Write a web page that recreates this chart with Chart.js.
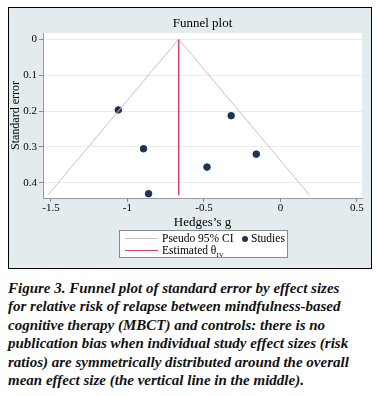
<!DOCTYPE html>
<html>
<head>
<meta charset="utf-8">
<script src="https://cdn.jsdelivr.net/npm/chart.js@4"></script>
<style>
  body { margin: 0; background: #fff; width: 377px; height: 396px; position: relative; overflow: hidden; }
  #frame { position: absolute; left: 8px; top: 7px; width: 362px; height: 260px; border: 1.5px solid #000; background: #e3ebef; }
  #chart { position: absolute; left: 0; top: 0; }
  #legend { position: absolute; left: 110px; top: 222px; width: 167px; height: 26px; background: #fff; border: 1px solid #8a8a8a;
            font-family: "Liberation Serif", serif; font-size: 11.5px; color: #000; }
  .sw { position: absolute; left: 5px; width: 33px; height: 0; }
  .lt { position: absolute; white-space: nowrap; line-height: 12px; }
  #caption { position: absolute; left: 8px; top: 279px; width: 365px; font-family: "Liberation Serif", serif; font-weight: bold;
             font-style: italic; font-size: 15px; line-height: 18.4px; color: #111; white-space: nowrap; }
</style>
</head>
<body>
<div id="frame">
  <canvas id="chart" width="362" height="260"></canvas>
  <div id="legend">
    <div class="sw" style="top:7px;border-top:1px solid #c4c4c4"></div>
    <div class="lt" style="left:42px;top:1px">Pseudo 95% CI</div>
    <div style="position:absolute;left:122px;top:5px;width:6px;height:6px;border-radius:50%;background:#1c3550"></div>
    <div class="lt" style="left:131px;top:1px">Studies</div>
    <div class="sw" style="top:19px;border-top:1.5px solid #d0406a"></div>
    <div class="lt" style="left:42px;top:13px">Estimated &theta;<sub style="font-size:7px">IV</sub></div>
  </div>
</div>
<div id="caption">Figure 3. Funnel plot of standard error by effect sizes<br>for relative risk of relapse between mindfulness-based<br>cognitive therapy (MBCT) and controls: there is no<br>publication bias when individual study effect sizes (risk<br>ratios) are symmetrically distributed around the overall<br>mean effect size (the vertical line in the middle).</div>
<script>
// Study effect sizes (Hedges's g) and standard errors
const studyG = [-1.06, -0.895, -0.862, -0.48, -0.322, -0.158];
const studySE = [0.197, 0.305, 0.43, 0.356, 0.213, 0.32];

// Pseudo 95% CI funnel (bottom-left, apex, bottom-right)
const funnelG = [-1.52, -0.665, 0.19];
const funnelSE = [0.434, 0, 0.434];

// Estimated overall effect (vertical line)
const thetaG = [-0.665, -0.665];
const thetaSE = [0, 0.434];

// Axis ticks
const xTicks = [-1.5, -1, -0.5, 0, 0.5];
const xTickLabels = ['-1.5', '-1', '-0.5', '0', '0.5'];
const yTicks = [0, 0.1, 0.2, 0.3, 0.4];
const yTickLabels = ['0', '0.1', '0.2', '0.3', '0.4'];

const toPoints = (xs, ys) => xs.map((x, i) => ({ x: x, y: ys[i] }));
const serif = '"Liberation Serif", "Times New Roman", serif';

// white plot area
const plotBg = {
    id: 'plotBg',
    beforeDraw(chart) {
        const a = chart.chartArea;
        chart.ctx.save();
        chart.ctx.fillStyle = '#fff';
        chart.ctx.fillRect(a.left, a.top, a.right - a.left, a.bottom - a.top);
        chart.ctx.restore();
    }
};

new Chart(document.getElementById('chart'), {
    type: 'scatter',
    data: {
        datasets: [{
            label: 'Pseudo 95% CI',
            data: toPoints(funnelG, funnelSE),
            showLine: true,
            borderColor: '#c4c4c4',
            borderWidth: 1,
            pointRadius: 0
        }, {
            label: 'Estimated',
            data: toPoints(thetaG, thetaSE),
            showLine: true,
            borderColor: '#d0406a',
            borderWidth: 1.5,
            pointRadius: 0
        }, {
            label: 'Studies',
            data: toPoints(studyG, studySE),
            backgroundColor: '#1c3550',
            borderColor: '#1c3550',
            pointRadius: 3.3
        }]
    },
    options: {
        responsive: false,
        animation: false,
        layout: { padding: { left: 0, right: 9, top: 0, bottom: 38 } },
        plugins: {
            legend: { display: false },
            tooltip: { enabled: false },
            title: {
                display: true,
                text: 'Funnel plot',
                fullSize: false,
                color: '#000',
                font: { family: serif, size: 13, weight: 'normal' },
                padding: { top: 8, bottom: 1.4 }
            }
        },
        scales: {
            x: {
                type: 'linear',
                min: -1.552,
                max: 0.533,
                afterFit: s => { s.height = 32; },
                afterBuildTicks: s => { s.ticks = xTicks.map(v => ({ value: v })); },
                ticks: {
                    color: '#000',
                    padding: 0,
                    font: { family: serif, size: 11 },
                    maxRotation: 0,
                    callback: v => xTickLabels[xTicks.indexOf(v)]
                },
                grid: { drawOnChartArea: false, tickLength: 4, color: '#888' },
                border: { color: '#999' },
                title: {
                    display: true,
                    text: 'Hedges\u2019s g',
                    color: '#000',
                    padding: 0,
                    font: { family: serif, size: 13 }
                }
            },
            y: {
                type: 'linear',
                reverse: true,
                min: -0.017,
                max: 0.442,
                afterFit: s => { s.width = 34; },
                afterBuildTicks: s => { s.ticks = yTicks.map(v => ({ value: v })); },
                ticks: {
                    color: '#000',
                    padding: 2,
                    font: { family: serif, size: 11 },
                    callback: v => yTickLabels[yTicks.indexOf(v)]
                },
                grid: { color: '#ebebeb', tickColor: '#888', tickLength: 4 },
                border: { color: '#999' },
                title: {
                    display: true,
                    text: 'Standard error',
                    color: '#000',
                    padding: 0,
                    font: { family: serif, size: 12 }
                }
            }
        }
    },
    plugins: [plotBg]
});
</script>
</body>
</html>
